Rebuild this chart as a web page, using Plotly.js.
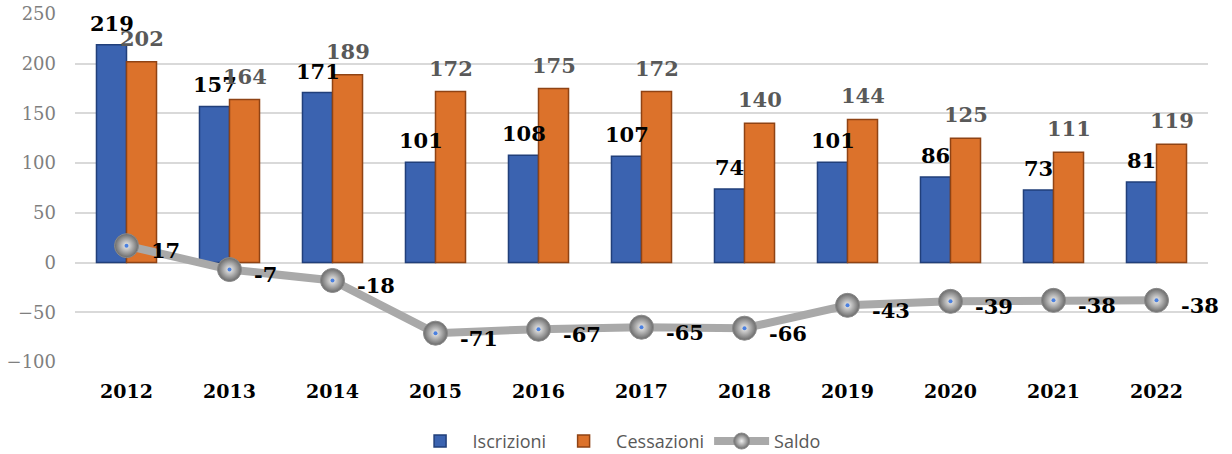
<!DOCTYPE html>
<html>
<head>
<meta charset="utf-8">
<script src="https://cdn.plot.ly/plotly-3.0.1.min.js"></script>
<style>html,body{margin:0;padding:0;background:#fff}#chart{width:1232px;height:454px}</style>
</head>
<body>
<div id="chart"></div>
<script>
var years = ['2012','2013','2014','2015','2016','2017','2018','2019','2020','2021','2022'];
var iscrizioni = [219,157,171,101,108,107,74,101,86,73,81];
var cessazioni = [202,164,189,172,175,172,140,144,125,111,119];
var saldo = [17,-7,-18,-71,-67,-65,-66,-43,-39,-38,-38];

var serif = 'DejaVu Serif, serif';

var traces = [
  {type:'bar', name:'Iscrizioni', x:years, y:iscrizioni,
   marker:{color:'#3b63b0', line:{color:'#213f7a', width:1.5}}, hoverinfo:'skip'},
  {type:'bar', name:'Cessazioni', x:years, y:cessazioni,
   marker:{color:'#dc722b', line:{color:'#8f4314', width:1.5}}, hoverinfo:'skip'},
  {type:'scatter', mode:'lines+markers', name:'Saldo', x:years, y:saldo,
   line:{color:'#a9a9a9', width:8},
   marker:{size:24, color:'#6a6a6a', gradient:{type:'radial', color:'#f0f0f0'},
           line:{color:'#8a8a8a', width:1}}, hoverinfo:'skip'},
  {type:'scatter', mode:'markers', x:years, y:saldo, showlegend:false,
   marker:{size:4, color:'#4a80e0'}, hoverinfo:'skip'}
];

var annotations = [];
years.forEach(function(yr, i){
  annotations.push({x:i, y:iscrizioni[i], xref:'x', yref:'y', xshift:-15, yshift:7,
    yanchor:'bottom', xanchor:'center', showarrow:false, text:String(iscrizioni[i]),
    font:{family:serif, size:21, color:'#000000', weight:'bold'}});
  annotations.push({x:i, y:cessazioni[i], xref:'x', yref:'y', xshift:15, yshift:9,
    yanchor:'bottom', xanchor:'center', showarrow:false, text:String(cessazioni[i]),
    font:{family:serif, size:21, color:'#595959', weight:'bold'}});
  annotations.push({x:i, y:saldo[i], xref:'x', yref:'y', xshift:22, yshift:-5,
    yanchor:'middle', xanchor:'left', showarrow:false, text:String(saldo[i]),
    font:{family:serif, size:21, color:'#000000', weight:'bold'}});
});

var layout = {
  width:1232, height:454,
  margin:{l:75, r:24, t:14, b:92, autoexpand:false},
  paper_bgcolor:'#ffffff', plot_bgcolor:'#ffffff',
  barmode:'group', bargap:0.417, bargroupgap:0,
  showlegend:true,
  legend:{orientation:'h', x:0.478, xanchor:'center', y:-0.228, yanchor:'middle',
          font:{family:'Open Sans, sans-serif', size:18, color:'#595959'},
          traceorder:'normal', itemwidth:55},
  xaxis:{type:'category', range:[-0.5,10.5], tickfont:{family:serif, size:19, color:'#000000', weight:'bold'},
         showgrid:false, showline:false, ticks:'', ticklabelstandoff:16},
  yaxis:{range:[-100,250], dtick:50, tick0:0, showgrid:true, gridcolor:'#d9d9d9', gridwidth:2,
         zeroline:true, zerolinecolor:'#d9d9d9', zerolinewidth:2, showline:false, ticks:'',
         tickfont:{family:serif, size:18, color:'#7f7f7f'}, ticklabelstandoff:18},
  annotations:annotations
};

Plotly.newPlot('chart', traces, layout, {displayModeBar:false, staticPlot:true});
</script>
</body>
</html>
